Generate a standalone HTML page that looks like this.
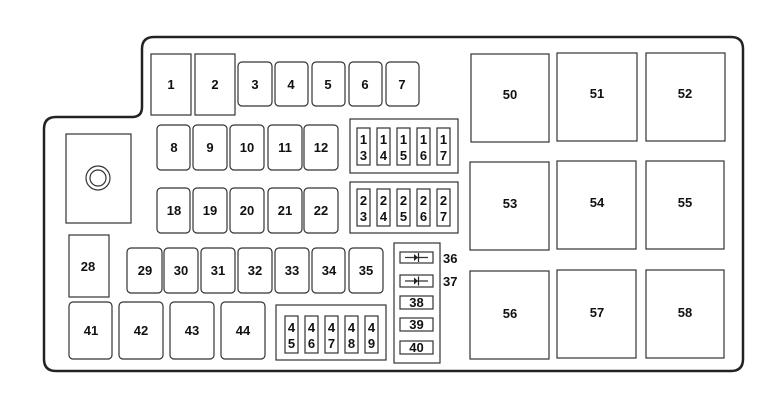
<!DOCTYPE html>
<html><head><meta charset="utf-8"><style>body{margin:0;background:#fff}svg{display:block}text{font-family:"Liberation Sans",sans-serif;font-weight:bold;font-size:13px;fill:#111}</style></head><body>
<svg width="784" height="402" xmlns="http://www.w3.org/2000/svg">
<g fill="none" stroke="#222" stroke-width="2.5">
<path d="M154,37 H731 Q743,37 743,49 V359 Q743,371 731,371 H56 Q44,371 44,359 V129 Q44,117 56,117 H132 Q142,117 142,107 V49 Q142,37 154,37 Z"/>
</g>
<g fill="none" stroke="#333" stroke-width="1.2">
<rect x="151" y="54" width="40" height="61"/>
<rect x="195" y="54" width="40" height="61"/>
<rect x="238" y="62" width="34" height="44" rx="4"/>
<rect x="275" y="62" width="33" height="44" rx="4"/>
<rect x="312" y="62" width="33" height="44" rx="4"/>
<rect x="349" y="62" width="33" height="44" rx="4"/>
<rect x="386" y="62" width="33" height="44" rx="4"/>
<rect x="157" y="125" width="33" height="45" rx="4"/>
<rect x="193" y="125" width="34" height="45" rx="4"/>
<rect x="230" y="125" width="34" height="45" rx="4"/>
<rect x="268" y="125" width="34" height="45" rx="4"/>
<rect x="304" y="125" width="34" height="45" rx="4"/>
<rect x="157" y="188" width="33" height="45" rx="4"/>
<rect x="193" y="188" width="34" height="45" rx="4"/>
<rect x="230" y="188" width="34" height="45" rx="4"/>
<rect x="268" y="188" width="34" height="45" rx="4"/>
<rect x="304" y="188" width="34" height="45" rx="4"/>
<rect x="350" y="119" width="108" height="54"/>
<rect x="350" y="182" width="108" height="51"/>
<rect x="357" y="128" width="13" height="37"/><rect x="377" y="128" width="13" height="37"/><rect x="397" y="128" width="13" height="37"/><rect x="417" y="128" width="13" height="37"/><rect x="437" y="128" width="13" height="37"/>
<rect x="357" y="189" width="13" height="37"/><rect x="377" y="189" width="13" height="37"/><rect x="397" y="189" width="13" height="37"/><rect x="417" y="189" width="13" height="37"/><rect x="437" y="189" width="13" height="37"/>
<rect x="66" y="134" width="65" height="89"/>
<circle cx="98" cy="178" r="12"/><circle cx="98" cy="178" r="8"/>
<rect x="69" y="235" width="40" height="62"/>
<rect x="127" y="248" width="35" height="45" rx="4"/>
<rect x="164" y="248" width="34" height="45" rx="4"/>
<rect x="201" y="248" width="34" height="45" rx="4"/>
<rect x="238" y="248" width="34" height="45" rx="4"/>
<rect x="275" y="248" width="34" height="45" rx="4"/>
<rect x="312" y="248" width="33" height="45" rx="4"/>
<rect x="349" y="248" width="34" height="45" rx="4"/>
<rect x="69" y="302" width="43" height="57" rx="4"/>
<rect x="119" y="302" width="44" height="57" rx="4"/>
<rect x="170" y="302" width="44" height="57" rx="4"/>
<rect x="221" y="302" width="44" height="57" rx="4"/>
<rect x="276" y="305" width="110" height="55"/>
<rect x="285" y="316" width="13" height="37"/><rect x="305" y="316" width="13" height="37"/><rect x="325" y="316" width="13" height="37"/><rect x="345" y="316" width="13" height="37"/><rect x="365" y="316" width="13" height="37"/>
<rect x="394" y="243" width="46" height="120"/>
<rect x="400" y="252" width="33" height="11"/><rect x="400" y="275" width="33" height="12"/>
<rect x="400" y="296" width="33" height="13"/><rect x="400" y="318" width="33" height="13"/><rect x="400" y="341" width="33" height="13"/>
<path d="M405,257.5 H428 M405,281 H428"/>
<rect x="471" y="54" width="78" height="88"/><rect x="557" y="53" width="80" height="88"/><rect x="646" y="53" width="79" height="88"/>
<rect x="470" y="162" width="79" height="88"/><rect x="557" y="161" width="79" height="88"/><rect x="646" y="161" width="78" height="88"/>
<rect x="470" y="271" width="79" height="88"/><rect x="557" y="270" width="79" height="88"/><rect x="646" y="270" width="78" height="88"/>
</g>
<path d="M414,254 L418,257.5 L414,261 Z M414,277.5 L418,281 L414,284.5 Z" fill="#222"/>
<path d="M418.5,253 V262 M418.5,276.5 V285.5" stroke="#222" stroke-width="1.2"/>
<g text-anchor="middle">
<text x="171" y="89">1</text><text x="215" y="89">2</text><text x="255" y="89">3</text><text x="291" y="89">4</text><text x="328" y="89">5</text><text x="365" y="89">6</text><text x="402" y="89">7</text>
<text x="174" y="152">8</text><text x="210" y="152">9</text><text x="247" y="152">10</text><text x="285" y="152">11</text><text x="321" y="152">12</text>
<text x="174" y="215">18</text><text x="210" y="215">19</text><text x="247" y="215">20</text><text x="285" y="215">21</text><text x="321" y="215">22</text>
<text x="88" y="271">28</text>
<text x="145" y="275">29</text><text x="181" y="275">30</text><text x="218" y="275">31</text><text x="255" y="275">32</text><text x="292" y="275">33</text><text x="329" y="275">34</text><text x="366" y="275">35</text>
<text x="91" y="335">41</text><text x="141" y="335">42</text><text x="192" y="335">43</text><text x="243" y="335">44</text>
<text x="416.5" y="307">38</text><text x="416.5" y="329">39</text><text x="416.5" y="352">40</text>
<text x="510" y="99">50</text><text x="597" y="98">51</text><text x="685" y="98">52</text>
<text x="510" y="208">53</text><text x="597" y="207">54</text><text x="685" y="207">55</text>
<text x="510" y="318">56</text><text x="597" y="317">57</text><text x="685" y="317">58</text>
<g font-size="12">
<text x="363.5" y="144">1</text><text x="363.5" y="160">3</text><text x="383.5" y="144">1</text><text x="383.5" y="160">4</text><text x="403.5" y="144">1</text><text x="403.5" y="160">5</text><text x="423.5" y="144">1</text><text x="423.5" y="160">6</text><text x="443.5" y="144">1</text><text x="443.5" y="160">7</text>
<text x="363.5" y="205">2</text><text x="363.5" y="221">3</text><text x="383.5" y="205">2</text><text x="383.5" y="221">4</text><text x="403.5" y="205">2</text><text x="403.5" y="221">5</text><text x="423.5" y="205">2</text><text x="423.5" y="221">6</text><text x="443.5" y="205">2</text><text x="443.5" y="221">7</text>
<text x="291.5" y="332">4</text><text x="291.5" y="348">5</text><text x="311.5" y="332">4</text><text x="311.5" y="348">6</text><text x="331.5" y="332">4</text><text x="331.5" y="348">7</text><text x="351.5" y="332">4</text><text x="351.5" y="348">8</text><text x="371.5" y="332">4</text><text x="371.5" y="348">9</text>
</g>
</g>
<text x="443" y="263">36</text><text x="443" y="286">37</text>
</svg>
</body></html>
